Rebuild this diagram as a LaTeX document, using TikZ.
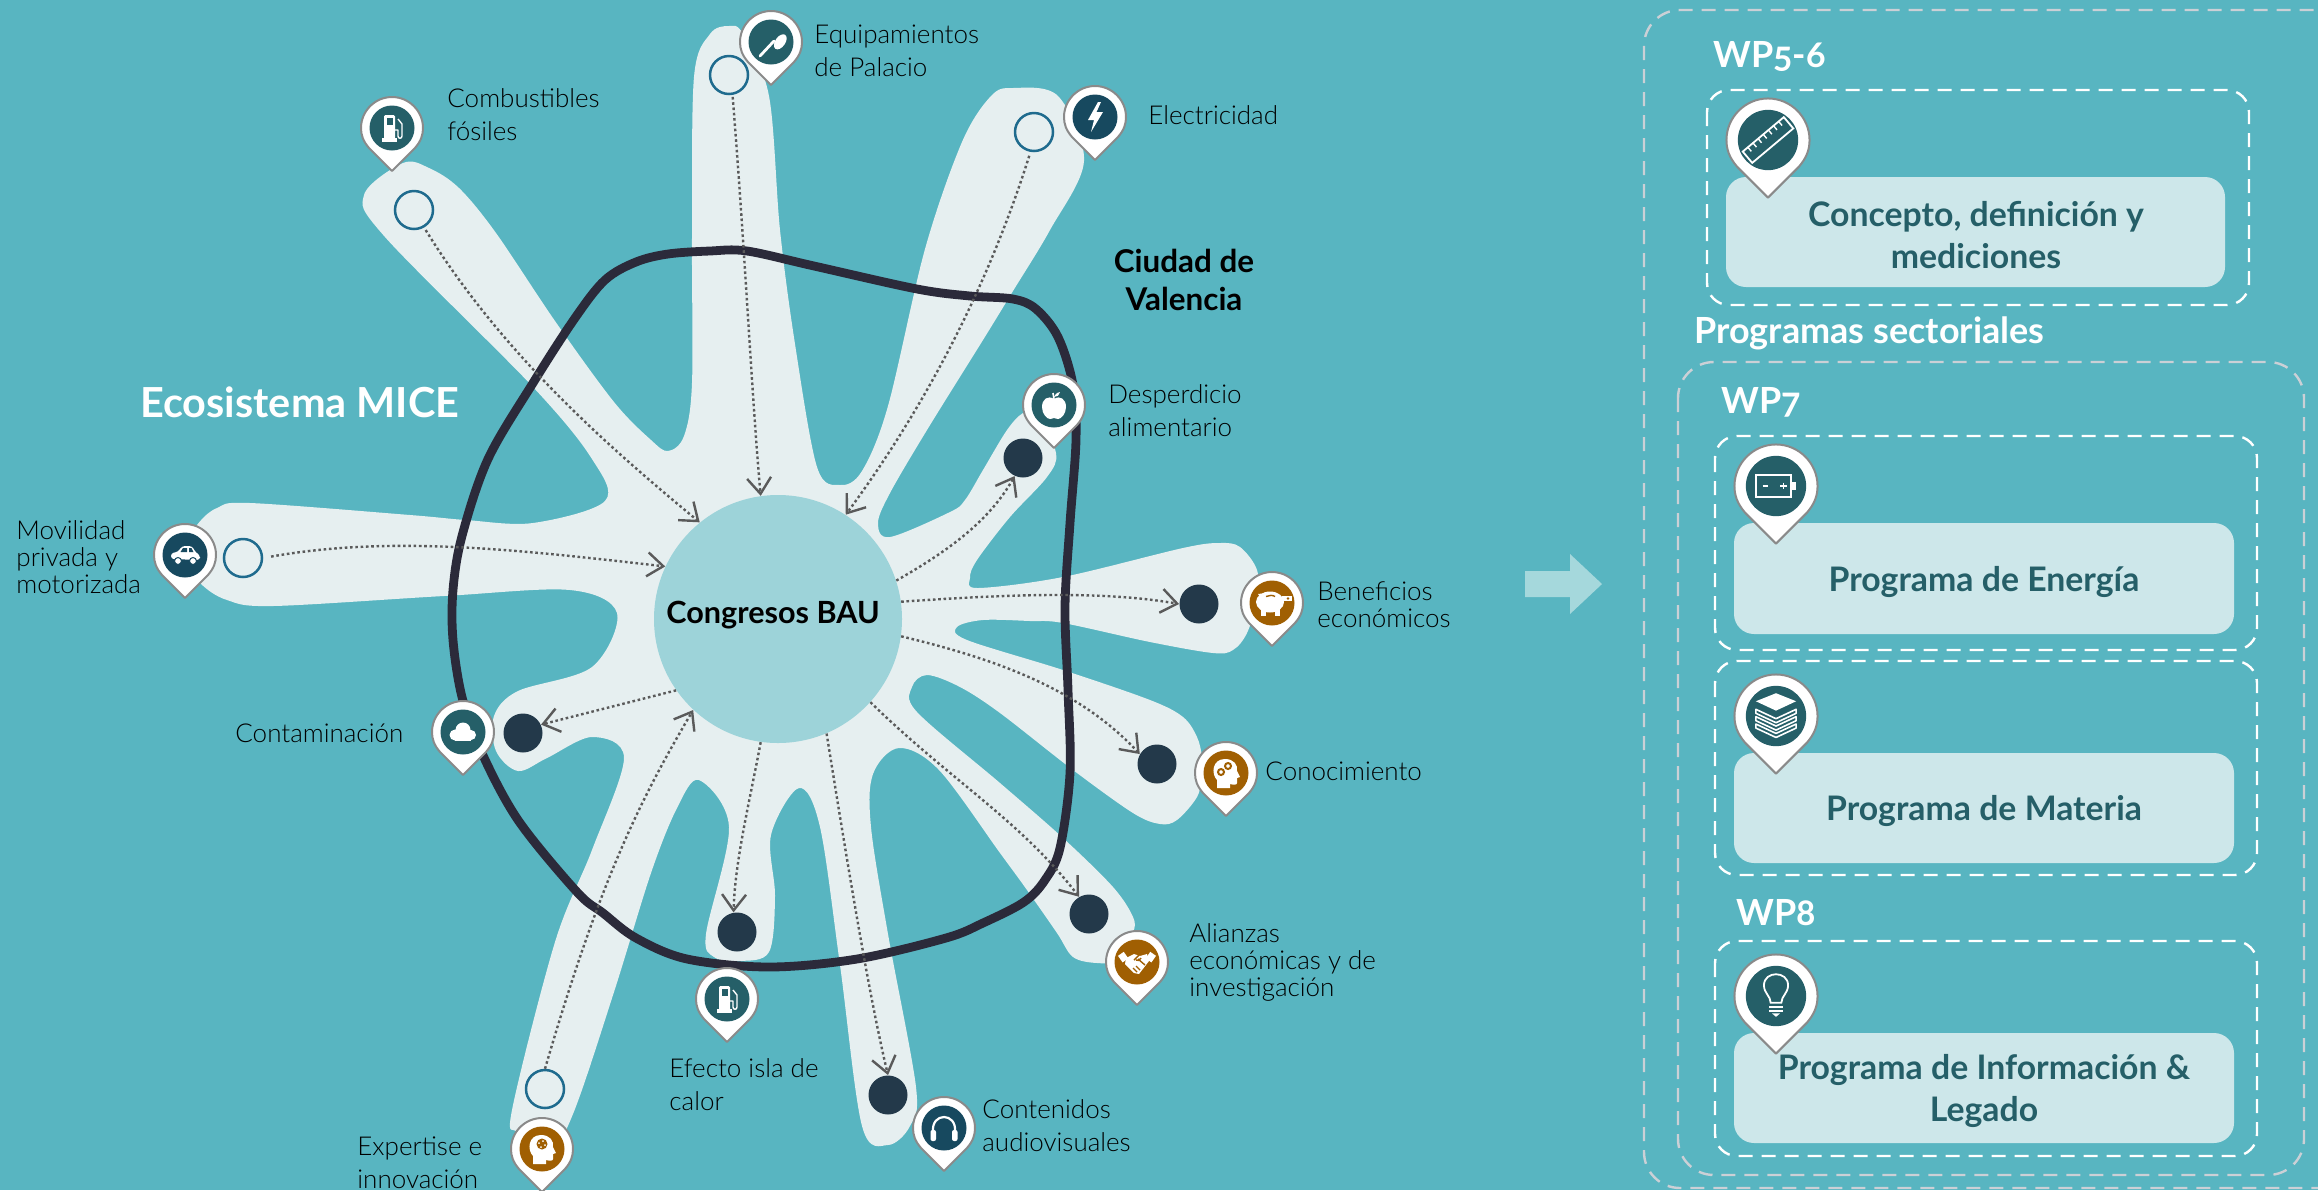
\documentclass[tikz,border=0pt]{standalone}
\usepackage{fontspec}
\usetikzlibrary{arrows.meta}
\setmainfont{Lato}
\newfontfamily\labf{Lato Light}
\newfontfamily\hdf{Lato}[Numbers=OldStyle]
\definecolor{bgc}{HTML}{58B5C1}
\definecolor{blobc}{HTML}{E6EFF0}
\definecolor{loopc}{HTML}{2B2A3A}
\definecolor{bauc}{HTML}{9DD3D9}
\definecolor{ringc}{HTML}{1F6B8E}
\definecolor{darkc}{HTML}{23394A}
\definecolor{flowc}{HTML}{5A5A5A}
\definecolor{pinedge}{HTML}{8A8A8A}
\definecolor{teal}{HTML}{255F68}
\definecolor{navy}{HTML}{17495F}
\definecolor{brown}{HTML}{A05F02}
\definecolor{boxc}{HTML}{CDE7EA}
\definecolor{outerd}{HTML}{CBD0D6}
\definecolor{arrowc}{HTML}{A5D8DC}
\tikzset{
  lbl/.style={font=\labf\fontsize{13}{16.5}\selectfont,anchor=west,align=left,text=black,inner sep=0pt},
  lbltight/.style={lbl,font=\labf\fontsize{13}{13.5}\selectfont},
  bigtxt/.style={font=\bfseries\fontsize{15.3}{19}\selectfont,align=center,text=black,inner sep=0pt},
  wptxt/.style={font=\hdf\bfseries\fontsize{18}{22}\selectfont,anchor=west,text=white,inner sep=0pt},
  boxt/.style={rounded corners=10pt,fill=boxc,text=teal,draw=none,align=center,inner sep=0pt,
     font=\bfseries\fontsize{16.9}{21}\selectfont},
  hollow/.style={circle,draw=ringc,line width=1.25pt,fill=blobc,minimum size=19pt,inner sep=0pt},
  solidm/.style={circle,fill=darkc,minimum size=19.5pt,inner sep=0pt},
  flow/.style={draw=flowc,line width=1.2pt,dash pattern=on 1.3pt off 1.35pt,
     -{Straight Barb[length=8pt,width=12pt,line width=1.2pt,color=flowc]}},
  whited/.style={draw=white,line width=1.2pt,dash pattern=on 7pt off 4.5pt,rounded corners=11pt},
  outerdash/.style={draw=outerd,line width=1.2pt,dash pattern=on 7pt off 4.5pt,rounded corners=18pt},
}
% ---------- icons, drawn in a frame of radius 22
\newcommand\icpump{%
  \fill[white,rounded corners=0.7] (-8,-13) rectangle (3,12);
  \fill[white] (-10,10) rectangle (5,14);
  \fill[pinc] (-5.5,-10) rectangle (0.5,-3);
  \draw[white,line width=0.7pt,line join=round] (3,2) -- (6,2) -- (6,8) .. controls (6,11) and (10,11) .. (10,8) -- (10,-4) -- (6,-9);}
\newcommand\icspoon{%
  \fill[white,rotate=-35] (7.5,-5.5) ellipse (5 and 8.5);
  \draw[white,line width=1.4pt,line cap=round] (3,-1) -- (-11,14);}
\newcommand\icbolt{%
  \fill[white] (3,-15) -- (-7,3) -- (-1,3) -- (-4,15) -- (8,-5) -- (1.5,-5) -- (6,-15) -- cycle;}
\newcommand\icapple{%
  \fill[white] (0,-6) .. controls (-6,-10) and (-12,-6) .. (-12,2) .. controls (-12,9) and (-7,14) .. (-4,14) .. controls (-2,14) and (-1,13) .. (0,13) .. controls (1,13) and (2,14) .. (4,14) .. controls (7,14) and (12,9) .. (12,2) .. controls (12,-6) and (6,-10) .. (0,-6) -- cycle;
  \draw[white,line width=0.8pt] (0,-6) -- (-1,-12);
  \fill[white] (0,-8) .. controls (2,-12) and (4,-13) .. (6,-13) .. controls (6,-10) and (3,-8) .. (0,-8) -- cycle;}
\newcommand\icpig{%
  \fill[white] (-2,-1) ellipse (14 and 10.5);
  \fill[white] (-14,-9) -- (-6,-10) -- (-10,-3) -- cycle;
  \fill[white] (-11,6) rectangle (-6,13);
  \fill[white] (3,6) rectangle (8,13);
  \fill[white] (10,-7) rectangle (20,-2);
  \fill[pinc] (16,-4.5) circle (1.3);
  \draw[pinc,line width=0.7pt] (-6,-6.5) .. controls (-3,-8) and (1,-8) .. (3,-6.5);}
\newcommand\ichead{%
  \fill[white] (-9,15) -- (-9,7) .. controls (-15,1) and (-14,-14) .. (-1,-14) .. controls (8,-14) and (12,-8) .. (11,-2) -- (14,4) -- (11,5) -- (11,10) .. controls (11,12) and (8,12) .. (4,11) -- (4,15) -- cycle;}
\newcommand\icheadgears{%
  \ichead
  \draw[pinc,line width=1pt] (-5,-1) circle (3);
  \draw[pinc,line width=1pt] (2,-7) circle (3);}
\newcommand\icheadbrain{%
  \ichead
  \fill[pinc] (0,-5) circle (5.5);
  \fill[white] (-3,-6) circle (1) (1,-8) circle (1) (3,-4) circle (1) (-1,-2) circle (1);}
\newcommand\ichands{%
  \fill[white,rotate around={35:(-14,-6)}] (-18,-9) rectangle (-11,-1);
  \fill[white,rotate around={-35:(14,-6)}] (11,-9) rectangle (18,-1);
  \fill[white] (-11,-4) -- (-3,-8) -- (3,-6) -- (10,-8) -- (12,-1) -- (2,12) -- (-3,11) -- (-12,2) -- cycle;
  \draw[pinc,line width=0.7pt,line join=round] (-3,-2) -- (2,-7) (1,-3) -- (8,3) (-1,4) -- (3,8) (-4,6) -- (0,10) (-1,-2) .. controls (1,0) and (3,-2) .. (4,-4);}
\newcommand\icphones{%
  \draw[white,line width=1.1pt] (-11,4) .. controls (-13,-16) and (13,-16) .. (11,4);
  \fill[white,rounded corners=1] (-13.5,2) rectangle (-8,13);
  \fill[white,rounded corners=1] (8,2) rectangle (13.5,13);}
\newcommand\iccloud{%
  \fill[white] (-8,3) circle (5.5) (0,-2) circle (7.5) (8,3) circle (5);
  \fill[white] (-8,2) rectangle (8,8.5);}
\newcommand\iccar{%
  \fill[white,rounded corners=1.5] (-14,4) -- (-14,-2) -- (-7,-3) -- (-3,-9) -- (7,-9) -- (11,-2) -- (15,0) -- (15,5) -- cycle;
  \fill[pinc] (-4.5,-3) -- (-2,-7) -- (2,-7) -- (2,-3) -- cycle (4,-7) -- (6.5,-7) -- (8.5,-3) -- (4,-3) -- cycle;
  \fill[white,draw=pinc,line width=0.5pt] (-7,6) circle (3.5) (8,6) circle (3.5);}
\newcommand\icruler{%
  \begin{scope}[rotate=40]
    \draw[white,line width=0.9pt] (-20,-5.5) rectangle (20,5.5);
    \foreach \k in {-15,-10,...,15} {\draw[white,line width=0.7pt] (\k,-5.5) -- (\k,-1.5);}
  \end{scope}}
\newcommand\icbattery{%
  \draw[white,line width=0.9pt] (-15,-8) rectangle (11,8);
  \fill[white] (11,-3) rectangle (15,3);
  \draw[white,line width=0.8pt] (-10,0) -- (-6,0) (3,0) -- (8,0) (5.5,-2.5) -- (5.5,2.5);}
\newcommand\icbooks{%
  \foreach \d in {9,3.5,-2} {\draw[white,line width=0.8pt,fill=pinc,line join=round] (-15,\d-3) -- (0,\d+4) -- (15,\d-3) -- (15,\d) -- (0,\d+7) -- (-15,\d) -- cycle;}
  \fill[white] (-15,-11) -- (0,-17) -- (15,-11) -- (0,-4) -- cycle;}
\newcommand\icbulb{%
  \draw[white,line width=0.9pt] (-4,5) .. controls (-4,0) and (-9,-2) .. (-9,-8) .. controls (-9,-19) and (9,-19) .. (9,-8) .. controls (9,-2) and (4,0) .. (4,5) -- cycle;
  \draw[white,line width=1.1pt] (-5,8) -- (5,8) (-5,11) -- (5,11);
  \fill[white] (-3,13) -- (3,13) -- (0,15.5) -- cycle;}
% ---------- a pin: x, y, scale, colour, icon
\newcommand\pinmark[5]{%
  \begin{scope}[shift={(#1,#2)},scale=#3]
    \colorlet{pinc}{#4}
    \filldraw[fill=white,draw=pinedge,line width=1pt,line join=round] (0,43) -- (-23,20) .. controls (-29,13) and (-31,7) .. (-31,0) .. controls (-31,-17) and (-17,-31) .. (0,-31) .. controls (17,-31) and (31,-17) .. (31,0) .. controls (31,7) and (29,13) .. (23,20) -- cycle;
    \fill[pinc] (0,0) circle (22.5);
    #5
  \end{scope}}
\begin{document}
\begin{tikzpicture}[x=0.5pt,y=-0.5pt]
\useasboundingbox (0,0) rectangle (2318,1190);
\clip (0,0) rectangle (2318,1190);
\fill[bgc] (0,0) rectangle (2318,1190);
% ecosystem blob
\fill[blobc] plot[smooth cycle,tension=0.55] coordinates {
(403,163)(429,168)(459,188)(496,233)(555,321)(614,402)(651,440)(668,451)(684,436)(692,383)(692,237)(694,77)(710,34)(729,26)(743,34)(769,96)(780,230)(795,344)(817,467)(840,485)(862,471)(888,406)(925,249)(962,142)(991,96)(1013,88)(1058,96)(1084,161)(1050,230)(1013,291)(983,340)(927,430)(890,493)(878,523)(890,537)(950,512)(965,500)(983,470)(1007,430)(1023,413)(1037,412)(1056,453)(1047,477)(1010,517)(977,560)(970,578)(978,588)(1063,577)(1183,548)(1220,543)(1240,547)(1257,570)(1257,600)(1247,633)(1233,650)(1213,653)(1150,642)(1063,623)(1030,621)(983,620)(957,627)(967,640)(1063,670)(1150,700)(1183,717)(1197,737)(1202,757)(1202,775)(1197,797)(1177,820)(1160,824)(1133,813)(1073,770)(1000,713)(960,687)(927,675)(912,687)(917,712)(1000,783)(1063,838)(1113,887)(1133,917)(1133,933)(1120,960)(1097,963)(1073,957)(1057,933)(1027,890)(1000,853)(939,770)(899,748)(873,774)(871,827)(888,934)(916,1087)(910,1126)(888,1145)(862,1126)(840,965)(820,827)(799,788)(771,835)(775,896)(769,952)(740,961)(714,957)(706,934)(729,827)(699,780)(677,808)(651,873)(614,992)(573,1114)(545,1160)(518,1133)(512,1110)(555,942)(592,850)(624,758)(592,737)(547,758)(518,771)(496,751)(494,716)(518,691)(592,667)(617,613)(570,590)(444,596)(273,606)(227,600)(200,583)(180,555)(197,525)(217,508)(250,503)(410,515)(466,520)(533,523)(605,501)(592,459)(533,387)(385,237)(364,195)};
% city boundary
\draw[loopc,line width=4.4pt] plot[smooth cycle,tension=0.55] coordinates {
(710,251)(747,251)(814,266)(917,289)(970,296)(1013,299)(1036,309)(1058,337)(1073,385)(1076,440)(1070,523)(1065,607)(1068,690)(1070,773)(1060,848)(1045,880)(1024,902)(983,923)(946,938)(857,959)(769,967)(687,959)(636,938)(603,913)(577,892)(518,820)(481,751)(462,697)(453,640)(453,590)(462,536)(488,459)(533,383)(575,318)(605,280)(636,262)(668,254)};
% centre
\node[circle,fill=bauc,minimum size=124pt,inner sep=0pt] (bau) at (778,619) {};
\node[bigtxt] (bautxt) at (773,615) {Congresos BAU};
% markers
\node[hollow] (mmov) at (243,558) {};
\node[hollow] (mcom) at (414,210) {};
\node[hollow] (mequ) at (729,75) {};
\node[hollow] (mele) at (1034,132) {};
\node[hollow] (mexp) at (545,1089) {};
\node[solidm] (mdes) at (1023,458) {};
\node[solidm] (mben) at (1199,604) {};
\node[solidm] (mcon) at (1157,764) {};
\node[solidm] (mali) at (1089,914) {};
\node[solidm] (maud) at (888,1095) {};
\node[solidm] (mefe) at (737,932) {};
\node[solidm] (mcnt) at (523,733) {};
% flows
\draw[flow,shorten <=4pt] (mmov.east) .. controls (392,535) and (520,550) .. (bau.155);
\draw[flow,shorten <=1.5pt] (mcom.-60) .. controls (500,350) and (600,440) .. (bau.129);
\draw[flow,shorten <=1pt] (mequ.-80) .. controls (745,250) and (752,400) .. (bau.98);
\draw[flow,shorten <=2pt] (mele.-100) .. controls (990,280) and (930,400) .. (bau.57);
\draw[flow] (bau.18) .. controls (950,550) and (990,520) .. (mdes.-115);
\draw[flow] (bau.8) .. controls (1000,595) and (1100,590) .. (mben.west);
\draw[flow] (bau.-8) .. controls (1000,660) and (1080,690) .. (mcon.150);
\draw[flow] (bau.-42) .. controls (950,780) and (1020,820) .. (mali.120);
\draw[flow] (bau.-67) .. controls (850,880) and (870,1000) .. (maud.north);
\draw[flow] (bau.-98) .. controls (750,800) and (735,860) .. (mefe.100);
\draw[flow] (bau.215.5) -- (mcnt.25);
\draw[flow] (mexp.north) .. controls (600,880) and (640,800) .. (bau.227.6);
% pins
\pinmark{392}{128}{1}{teal}{\icpump}
\pinmark{771}{42}{1}{teal}{\icspoon}
\pinmark{1095}{117}{1}{navy}{\icbolt}
\pinmark{185}{555}{1}{navy}{\iccar}
\pinmark{1054}{405}{1}{teal}{\icapple}
\pinmark{1272}{603}{1}{brown}{\icpig}
\pinmark{1226}{773}{1}{brown}{\icheadgears}
\pinmark{1137}{962}{1}{brown}{\ichands}
\pinmark{944}{1128}{1}{navy}{\icphones}
\pinmark{727}{999}{1}{teal}{\icpump}
\pinmark{463}{732}{1}{teal}{\iccloud}
\pinmark{542}{1149}{1}{brown}{\icheadbrain}
% left labels
\node[lbl] (lcom) at (447,115) {Combustibles\\fósiles};
\node[lbl] (lequ) at (814,51) {Equipamientos\\de Palacio};
\node[lbl] (lele) at (1148,115) {Electricidad};
\node[bigtxt,font=\bfseries\fontsize{15.7}{19}\selectfont] (lciu) at (1184,280) {Ciudad de\\Valencia};
\node[wptxt,font=\bfseries\fontsize{20.7}{24}\selectfont] (leco) at (140,402) {Ecosistema MICE};
\node[lbltight] (lmov) at (16,557) {Movilidad\\privada y\\motorizada};
\node[lbl] (ldes) at (1108,411) {Desperdicio\\alimentario};
\node[lbltight] (lben) at (1317,605) {Beneficios\\económicos};
\node[lbl] (lcon) at (1265,771) {Conocimiento};
\node[lbltight] (lali) at (1189,962) {Alianzas\\económicas y de\\investigación};
\node[lbl] (laud) at (982,1126) {Contenidos\\audiovisuales};
\node[lbl] (lefe) at (669,1085) {Efecto isla de\\calor};
\node[lbl] (lcnt) at (235,733) {Contaminación};
\node[lbl] (lexp) at (357,1163) {Expertise e\\innovación};
% block arrow
\fill[arrowc] (1525,571) -- (1570,571) -- (1570,554) -- (1602,584) -- (1570,614) -- (1570,597) -- (1525,597) -- cycle;
% right panel
\draw[outerdash] (1644,10) rectangle (2360,1188);
\draw[outerdash] (1678,362) rectangle (2304,1175);
\draw[whited] (1707,90) rectangle (2249,305);
\draw[whited] (1715,436) rectangle (2257,650);
\draw[whited] (1715,661) rectangle (2257,875);
\draw[whited] (1715,941) rectangle (2257,1156);
\node[boxt,minimum width=249.5pt,minimum height=55pt] (b1) at (1975.5,232) {};
\node[boxt,minimum width=250pt,minimum height=55.5pt] (b2) at (1984,578.5) {};
\node[boxt,minimum width=250pt,minimum height=55pt] (b3) at (1984,808) {};
\node[boxt,minimum width=250pt,minimum height=55pt] (b4) at (1984,1088) {};
\node[boxt,fill=none] (t1) at (1976,235) {Concepto, definición y\\mediciones};
\node[boxt,fill=none] (t2) at (1984,582) {Programa de Energía};
\node[boxt,fill=none] (t3) at (1984,811) {Programa de Materia};
\node[boxt,fill=none] (t4) at (1984,1091) {Programa de Información \&\\Legado};
\node[wptxt] (w56) at (1713,57) {WP5-6};
\node[wptxt] (wps) at (1694,333) {Programas sectoriales};
\node[wptxt] (w7) at (1721,402) {WP7};
\node[wptxt] (w8) at (1736,913) {WP8};
\pinmark{1768}{140}{1.34}{teal}{\icruler}
\pinmark{1776}{486}{1.34}{teal}{\icbattery}
\pinmark{1776}{716}{1.34}{teal}{\icbooks}
\pinmark{1776}{996}{1.34}{teal}{\icbulb}
\end{tikzpicture}
\end{document}
